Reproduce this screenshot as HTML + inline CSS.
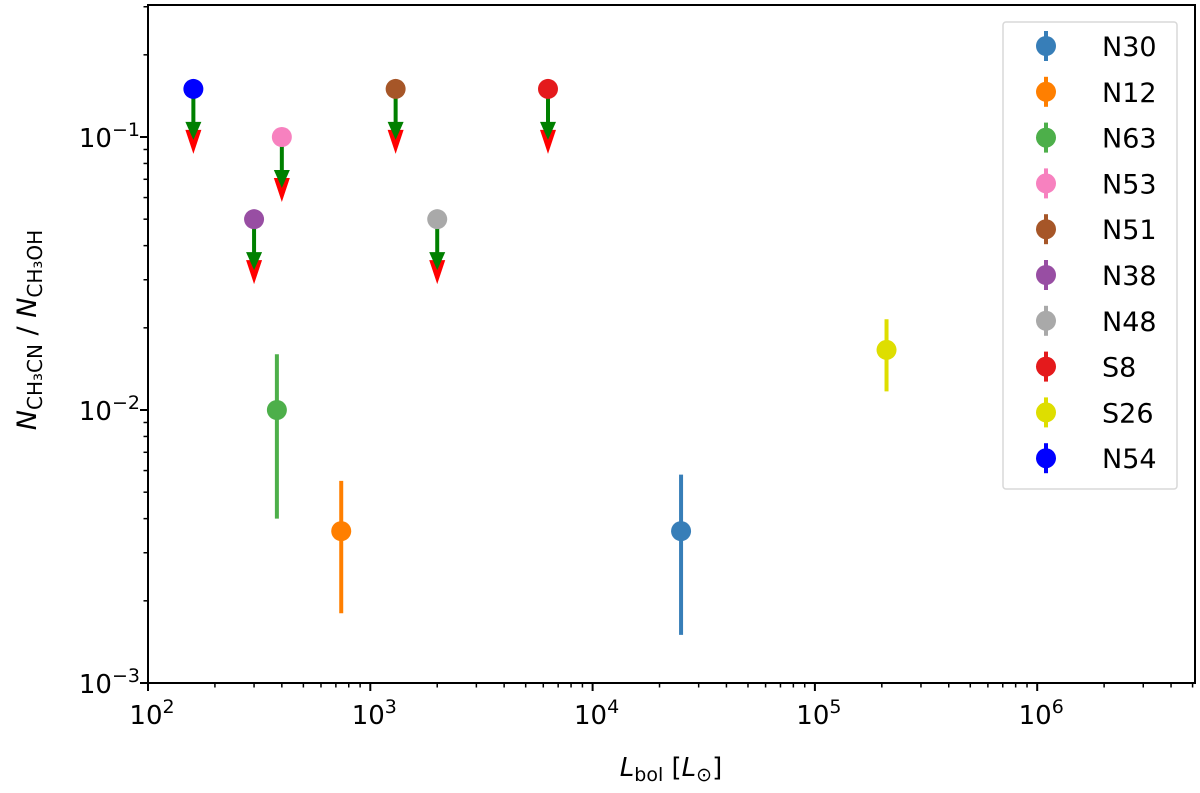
<!DOCTYPE html>
<html><head><meta charset="utf-8"><style>
body{margin:0;background:#fff}
svg text{font-family:"DejaVu Sans","Liberation Sans",sans-serif;fill:#000}
</style></head><body>
<svg id="chart" width="1200" height="788" viewBox="0 0 1200 788" xmlns="http://www.w3.org/2000/svg">
<g id="plot"></g>
<rect x="148" y="5" width="1047" height="678" fill="none" stroke="#000" stroke-width="2"/>
<text x="671" y="776" font-size="26" text-anchor="middle"><tspan font-style="italic">L</tspan><tspan font-size="19" dy="5">bol</tspan><tspan dy="-5"> [</tspan><tspan font-style="italic">L</tspan><tspan font-size="19" dy="5">⊙</tspan><tspan dy="-5">]</tspan></text>
<text transform="translate(36,330) rotate(-90)" font-size="27" text-anchor="middle"><tspan font-style="italic">N</tspan><tspan font-size="20" dy="6">CH₃CN</tspan><tspan dy="-6"> / </tspan><tspan font-style="italic">N</tspan><tspan font-size="20" dy="6">CH₃OH</tspan></text>
</svg>
<script>
const names=["N30","N12","N63","N53","N51","N38","N48","S8","S26","N54"];
const colors=["#377eb8","#ff7f00","#4daf4a","#f781bf","#a65628","#984ea3","#a9a9a9","#e41a1c","#dede00","#0000ff"];
const xVals=[25000,740,380,400,1300,300,2000,6300,210000,160];
const yVals=[0.0036,0.0036,0.01,0.1,0.15,0.05,0.05,0.15,0.0166,0.15];
const yLow=[0.0015,0.0018,0.004,null,null,null,null,null,0.0117,null];
const yHigh=[0.0058,0.0055,0.016,null,null,null,null,null,0.0215,null];
const upperLimit=[false,false,false,true,true,true,true,true,false,true];
const xTickExps=[2,3,4,5,6];
const yTickExps=[-3,-2,-1];

const NS="http://www.w3.org/2000/svg";
const X0=148,X1=1195,Y0=5,Y1=683;
const xmin=2,xmax=2+(X1-X0)/222.3;
const ymin=-3,ymax=-3+(Y1-Y0)/273;
function sx(v){return X0+(Math.log10(v)-xmin)/(xmax-xmin)*(X1-X0);}
function sy(v){return Y1-(Math.log10(v)-ymin)/(ymax-ymin)*(Y1-Y0);}
const svg=document.getElementById('chart');
const plot=document.getElementById('plot');
function mk(tag,attrs,parent){const e=document.createElementNS(NS,tag);for(const k in attrs)e.setAttribute(k,attrs[k]);(parent||svg).appendChild(e);return e;}

for(let d=2;d<=6;d++){
  for(let m=1;m<10;m++){
    const v=m*Math.pow(10,d);const x=sx(v);if(x>X1)break;
    const t=mk('line',{x1:x,x2:x,y1:Y1,y2:Y1+(m===1?8:4.5),stroke:'#000','stroke-width':m===1?2:1.5});
    
    
  }
}
xTickExps.forEach(e=>{
  const t=mk('text',{x:sx(Math.pow(10,e))+4,y:724,'font-size':26,'text-anchor':'middle'});
  t.innerHTML='10<tspan font-size="19" dy="-11">'+e+'</tspan>';
  
  
});
for(let d=-3;d<=-1;d++){
  for(let m=1;m<10;m++){
    const v=m*Math.pow(10,d);const y=sy(v);if(y<Y0)break;
    const t=mk('line',{x1:X0,x2:X0-(m===1?8:4.5),y1:y,y2:y,stroke:'#000','stroke-width':m===1?2:1.5});
    
    
  }
}
yTickExps.forEach(e=>{
  const t=mk('text',{x:140,y:sy(Math.pow(10,e))+10,'font-size':26,'text-anchor':'end'});
  t.innerHTML='10<tspan font-size="19" dy="-11">\u2212'+Math.abs(e)+'</tspan>';
  
  
});
names.forEach((n,i)=>{
  const g=mk('g',{},plot);
  
  
  const x=sx(xVals[i]),y=sy(yVals[i]);
  if(upperLimit[i]){
    mk('polygon',{points:`${x-8},${y+41} ${x+8},${y+41} ${x},${y+65}`,fill:'#ff0000'},g);
    mk('line',{x1:x,x2:x,y1:y,y2:y+38,stroke:'#008000','stroke-width':4},g);
    mk('polygon',{points:`${x-8},${y+33} ${x+8},${y+33} ${x},${y+51}`,fill:'#008000'},g);
  }else{
    mk('line',{x1:x,x2:x,y1:sy(yLow[i]),y2:sy(yHigh[i]),stroke:colors[i],'stroke-width':4},g);
  }
  mk('circle',{cx:x,cy:y,r:10,fill:colors[i]},g);
});
const lg=mk('g',{});


mk('rect',{x:1003,y:22,width:174,height:467,rx:3,fill:'#fff',stroke:'#d8d8d8','stroke-width':1.5},lg);
names.forEach((n,i)=>{
  const y=46+i*45.8;
  const e=mk('g',{},lg);
  
  
  mk('line',{x1:1046,x2:1046,y1:y-15,y2:y+15,stroke:colors[i],'stroke-width':4},e);
  mk('circle',{cx:1046,cy:y,r:10,fill:colors[i]},e);
  const t=mk('text',{x:1102,y:y+10,'font-size':27},e);t.textContent=n;
});
</script>
</body></html>
